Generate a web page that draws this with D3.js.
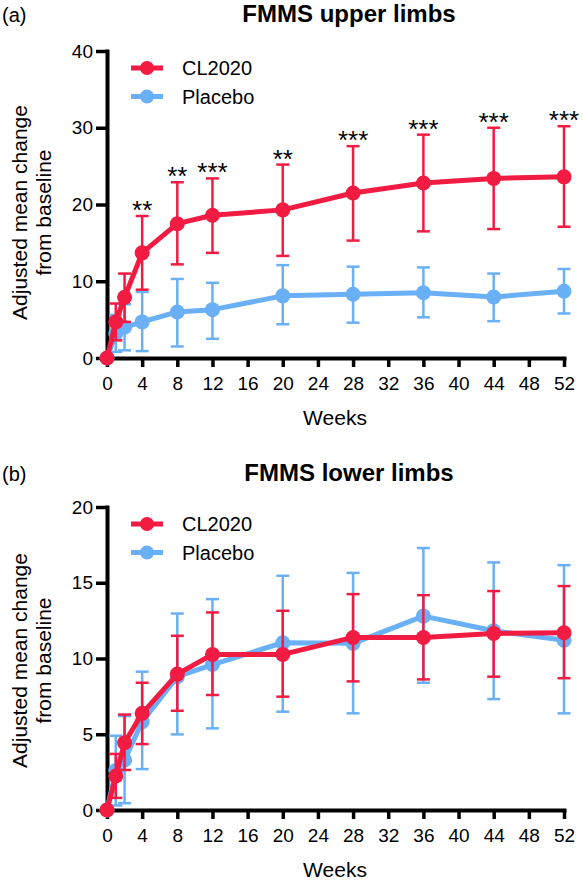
<!DOCTYPE html>
<html>
<head>
<meta charset="utf-8">
<script src="https://cdn.jsdelivr.net/npm/d3@7"></script>
<style>
html,body{margin:0;padding:0;background:#fff;}
svg{display:block;}
text{font-family:"Liberation Sans", Arial, Helvetica, sans-serif;fill:#000;}
</style>
</head>
<body>
<svg id="chart" width="583" height="886"></svg>
<script>
// ---------- data ----------
const weeks = [0, 1, 2, 4, 8, 12, 20, 28, 36, 44, 52];
const xTicks = [0, 4, 8, 12, 16, 20, 24, 28, 32, 36, 40, 44, 48, 52];
const seriesNames = ["CL2020", "Placebo"];

// (a) FMMS upper limbs
const upperCL = [0, 4.7, 7.9, 13.7, 17.5, 18.6, 19.3, 21.5, 22.8, 23.4, 23.6];
const upperCLHi = [0, 7.1, 11.0, 18.5, 22.9, 23.4, 25.2, 27.6, 29.1, 30.0, 30.2];
const upperCLLo = [0, 2.3, 4.7, 8.9, 12.2, 13.7, 13.3, 15.3, 16.5, 16.8, 17.1];
const upperPl = [0, 3.2, 4.0, 4.7, 6.0, 6.3, 8.1, 8.3, 8.5, 7.95, 8.7];
const upperPlHi = [0, 5.6, 7.0, 8.6, 10.3, 9.8, 12.1, 11.9, 11.8, 11.0, 11.6];
const upperPlLo = [0, 0.8, 1.0, 0.9, 1.5, 2.5, 4.4, 4.6, 5.3, 4.8, 5.8];
const upperStars = ["", "", "", "**", "**", "***", "**", "***", "***", "***", "***"];
const upperYTicks = [0, 10, 20, 30, 40];

// (b) FMMS lower limbs
const lowerCL = [0, 2.24, 4.44, 6.38, 8.97, 10.27, 10.27, 11.39, 11.39, 11.65, 11.7];
const lowerCLHi = [0, 3.7, 6.3, 8.4, 11.5, 13.04, 13.15, 14.25, 14.18, 14.45, 14.78];
const lowerCLLo = [0, 0.8, 2.64, 4.35, 6.55, 7.59, 7.48, 8.49, 8.62, 8.8, 8.7];
const lowerPl = [0, 2.6, 3.3, 5.83, 8.8, 9.6, 11.04, 11.0, 12.8, 11.83, 11.21];
const lowerPlHi = [0, 4.9, 6.2, 9.13, 12.97, 13.92, 15.46, 15.65, 17.29, 16.34, 16.16];
const lowerPlLo = [0, 0.3, 0.45, 2.7, 4.99, 5.39, 6.49, 6.38, 8.4, 7.32, 6.38];
const lowerStars = weeks.map(() => "");
const lowerYTicks = [0, 5, 10, 15, 20];

const RED = "#F21B41";
const BLUE = "#6AB0F6";

const svg = d3.select("#chart");

function panel(opt) {
  const g = svg.append("g");
  const x = d3.scaleLinear().domain([0, 52]).range([107, 564]);
  const y = d3.scaleLinear().domain([0, opt.yMax]).range([opt.y0, opt.yTop]);

  // panel letter and title
  g.append("text").attr("x", 2).attr("y", opt.titleY).attr("font-size", 20).text(opt.letter);
  g.append("text").attr("x", 349).attr("y", opt.titleY).attr("text-anchor", "middle")
    .attr("font-size", 24).attr("font-weight", "bold").text(opt.title);

  // y label
  const yl = g.append("text").attr("font-size", 21).attr("text-anchor", "middle")
    .attr("transform", `translate(0,${(opt.y0 + opt.yTop) / 2 + opt.ylShift}) rotate(-90)`);
  yl.append("tspan").attr("x", 0).attr("y", 27).text("Adjusted mean change");
  yl.append("tspan").attr("x", 0).attr("y", 51).text("from baseline");

  // axes
  const ax = g.append("g").attr("transform", `translate(0,${opt.y0})`)
    .call(d3.axisBottom(x).tickValues(xTicks).tickSize(9).tickSizeOuter(0).tickPadding(10));
  const ay = g.append("g").attr("transform", `translate(107,0)`)
    .call(d3.axisLeft(y).tickValues(opt.yTicks).tickSize(11).tickSizeOuter(0).tickPadding(3));
  [ax, ay].forEach(a => {
    a.select(".domain").attr("stroke", "#000").attr("stroke-width", 4).attr("stroke-linecap", "square");
    a.selectAll(".tick line").attr("stroke", "#000").attr("stroke-width", 3.5);
    a.selectAll(".tick text").attr("font-size", 19).attr("font-family", "Liberation Sans, Arial, sans-serif").attr("fill", "#000");
  });

  g.append("text").attr("x", 335).attr("y", opt.y0 + 67).attr("text-anchor", "middle")
    .attr("font-size", 21).text("Weeks");

  // series
  const series = [
    {name: seriesNames[1], color: BLUE, m: opt.pl, hi: opt.plHi, lo: opt.plLo},
    {name: seriesNames[0], color: RED, m: opt.cl, hi: opt.clHi, lo: opt.clLo}
  ];
  const line = d3.line().x(d => x(d.w)).y(d => y(d.v));
  series.forEach(s => {
    const pts = weeks.map((w, i) => ({w, v: s.m[i], hi: s.hi[i], lo: s.lo[i]}));
    const sg = g.append("g");
    const eb = pts.filter(p => p.hi > p.lo);
    sg.selectAll(".ev").data(eb).join("line")
      .attr("x1", d => x(d.w)).attr("x2", d => x(d.w))
      .attr("y1", d => y(d.hi)).attr("y2", d => y(d.lo))
      .attr("stroke", s.color).attr("stroke-width", 2.5);
    ["hi", "lo"].forEach(k => {
      sg.selectAll(".cap" + k).data(eb).join("line")
        .attr("x1", d => x(d.w) - 6.5).attr("x2", d => x(d.w) + 6.5)
        .attr("y1", d => y(d[k])).attr("y2", d => y(d[k]))
        .attr("stroke", s.color).attr("stroke-width", 2.5);
    });
    sg.append("path").datum(pts).attr("d", line).attr("fill", "none")
      .attr("stroke", s.color).attr("stroke-width", 5).attr("stroke-linejoin", "round");
    sg.selectAll("circle").data(pts).join("circle")
      .attr("cx", d => x(d.w)).attr("cy", d => y(d.v)).attr("r", 7.5).attr("fill", s.color);
  });

  // significance stars
  g.selectAll(".star").data(weeks.map((w, i) => ({w, s: opt.stars[i], hi: opt.clHi[i]})).filter(d => d.s))
    .join("text").attr("x", d => x(d.w)).attr("y", d => y(d.hi) + 3)
    .attr("text-anchor", "middle").attr("font-size", 26).text(d => d.s);

  // legend
  const lg = g.append("g");
  [{name: seriesNames[0], color: RED}, {name: seriesNames[1], color: BLUE}].forEach((s, i) => {
    const ly = opt.yTop + 17 + i * 28.5;
    lg.append("line").attr("x1", 131).attr("x2", 163).attr("y1", ly).attr("y2", ly)
      .attr("stroke", s.color).attr("stroke-width", 5);
    lg.append("circle").attr("cx", 147).attr("cy", ly).attr("r", 7).attr("fill", s.color);
    lg.append("text").attr("x", 182).attr("y", ly).attr("dy", "0.35em").attr("font-size", 20).text(s.name);
  });
}

panel({letter: "(a)", title: "FMMS upper limbs", titleY: 22, y0: 358, yTop: 51, yMax: 40, yTicks: upperYTicks, ylShift: 8,
  cl: upperCL, clHi: upperCLHi, clLo: upperCLLo, pl: upperPl, plHi: upperPlHi, plLo: upperPlLo, stars: upperStars});
panel({letter: "(b)", title: "FMMS lower limbs", titleY: 481, y0: 810, yTop: 507, yMax: 20, yTicks: lowerYTicks, ylShift: 2,
  cl: lowerCL, clHi: lowerCLHi, clLo: lowerCLLo, pl: lowerPl, plHi: lowerPlHi, plLo: lowerPlLo, stars: lowerStars});
</script>
</body>
</html>
